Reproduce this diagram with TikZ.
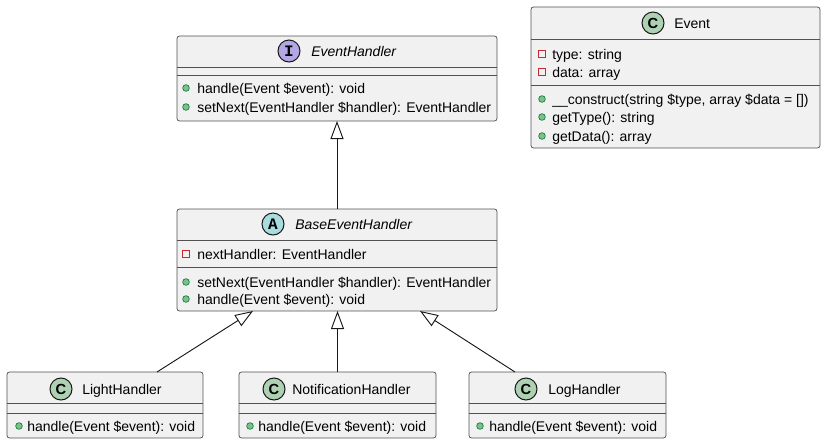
\documentclass[tikz,border=0pt]{standalone}
\usepackage{fontspec}
\setmainfont{Liberation Sans}
\newfontfamily\iconfont{Liberation Mono}
\usetikzlibrary{arrows.meta}
\definecolor{boxfill}{HTML}{F1F1F1}
\definecolor{boxline}{HTML}{181818}
\definecolor{ifill}{HTML}{B4A7E5}
\definecolor{afill}{HTML}{A9DCDF}
\definecolor{cfill}{HTML}{ADD1B2}
\definecolor{pubfill}{HTML}{84BE84}
\definecolor{publine}{HTML}{038048}
\definecolor{privline}{HTML}{C82930}
\newcommand\umlbox[5]{\node[umlbox, minimum width={(#4-#2)*0.75pt}, minimum height={(#5-#3)*0.75pt}] (#1) at ({(#2+#4)/2},{(#3+#5)/2}) {};}
\begin{document}
\begin{tikzpicture}[x=0.75pt,y=-0.75pt,
  umlbox/.style={draw=boxline!75, fill=boxfill, line width=0.55pt, rounded corners=1.9pt, inner sep=0pt, outer sep=0pt},
  sepline/.style={draw=boxline!75, line width=0.55pt},
  icon/.style={circle, draw=boxline, line width=0.75pt, minimum size=16.5pt, inner sep=0pt, font=\iconfont\bfseries\fontsize{12}{12}\selectfont},
  cicon/.style={icon, fill=cfill, font=\bfseries\fontsize{11}{11}\selectfont},
  mem/.style={anchor=base west, inner sep=0pt, font=\fontsize{10.5}{12}\selectfont},
  ttl/.style={anchor=base west, inner sep=0pt, font=\fontsize{10.5}{12}\selectfont},
  ittl/.style={ttl, font=\fontsize{10.5}{12}\selectfont\itshape},
  pub/.style={circle, fill=pubfill, draw=publine, line width=0.5pt, minimum size=5pt, inner sep=0pt},
  priv/.style={rectangle, draw=privline, line width=0.6pt, minimum size=5pt, inner sep=0pt},
  inh/.style={draw=boxline, line width=0.7pt, -{Triangle[open, fill=white, length=13.5pt, width=9.75pt]}}
]
\useasboundingbox (0,0) rectangle (826,444);

% EventHandler (interface)
\umlbox{eh}{177}{36}{497}{121}
\draw[sepline] (177,67) -- (497,67);
\draw[sepline] (177,75) -- (497,75);
\node[icon, fill=ifill] (ehicon) at (289,51) {I};
\node[ittl] (ehname) at (311,56) {EventHandler};
\node[pub] (ehp1) at (186,88) {};
\node[mem] (ehm1) at (197,93) {handle(Event \$event): void};
\node[pub] (ehp2) at (186,107) {};
\node[mem] (ehm2) at (197,112) {setNext(EventHandler \$handler): EventHandler};

% Event (class)
\umlbox{ev}{531}{7}{820}{148}
\draw[sepline] (531,39) -- (820,39);
\draw[sepline] (531,85) -- (820,85);
\node[cicon] (evicon) at (653,23) {C};
\node[ttl] (evname) at (674,28) {Event};
\node[priv] (eva1) at (542,54) {};
\node[mem] (evt1) at (552,59) {type: string};
\node[priv] (eva2) at (542,72) {};
\node[mem] (evt2) at (552,77) {data: array};
\node[pub] (evp1) at (542,99) {};
\node[mem] (evm1) at (552,104) {\_\_construct(string \$type, array \$data = [])};
\node[pub] (evp2) at (542,117) {};
\node[mem] (evm2) at (552,122) {getType(): string};
\node[pub] (evp3) at (542,136) {};
\node[mem] (evm3) at (552,141) {getData(): array};

% BaseEventHandler (abstract)
\umlbox{base}{177}{209}{497}{311}
\draw[sepline] (177,240) -- (497,240);
\draw[sepline] (177,267) -- (497,267);
\node[icon, fill=afill] (baseicon) at (273,224) {A};
\node[ittl] (basename) at (295,229) {BaseEventHandler};
\node[priv] (basea1) at (186,254) {};
\node[mem] (baset1) at (197,259) {nextHandler: EventHandler};
\node[pub] (basep1) at (186,282) {};
\node[mem] (basem1) at (197,287) {setNext(EventHandler \$handler): EventHandler};
\node[pub] (basep2) at (186,299) {};
\node[mem] (basem2) at (197,304) {handle(Event \$event): void};

% LightHandler
\umlbox{light}{7}{372}{203}{438}
\draw[sepline] (7,403) -- (203,403);
\draw[sepline] (7,413) -- (203,413);
\node[cicon] (lighticon) at (61,389) {C};
\node[ttl] (lightname) at (82,394) {LightHandler};
\node[pub] (lightp1) at (19,426) {};
\node[mem] (lightm1) at (27,431) {handle(Event \$event): void};

% NotificationHandler
\umlbox{notif}{239}{372}{436}{438}
\draw[sepline] (239,403) -- (436,403);
\draw[sepline] (239,413) -- (436,413);
\node[cicon] (notificon) at (274,389) {C};
\node[ttl] (notifname) at (292,394) {NotificationHandler};
\node[pub] (notifp1) at (250,426) {};
\node[mem] (notifm1) at (258,431) {handle(Event \$event): void};

% LogHandler
\umlbox{log}{469}{372}{666}{438}
\draw[sepline] (469,403) -- (666,403);
\draw[sepline] (469,413) -- (666,413);
\node[cicon] (logicon) at (526,389) {C};
\node[ttl] (logname) at (548,394) {LogHandler};
\node[pub] (logp1) at (480,426) {};
\node[mem] (logm1) at (489,431) {handle(Event \$event): void};

% inheritance
\draw[inh] (base.north) -- (eh.south);
\coordinate (lightTop) at (157,372);
\coordinate (baseL) at (253,311);
\draw[inh] (lightTop) -- (baseL);
\draw[inh] (notif.north) -- (notif.north |- base.south);
\coordinate (logTop) at (515,372);
\coordinate (baseR) at (420,311);
\draw[inh] (logTop) -- (baseR);
\end{tikzpicture}
\end{document}
